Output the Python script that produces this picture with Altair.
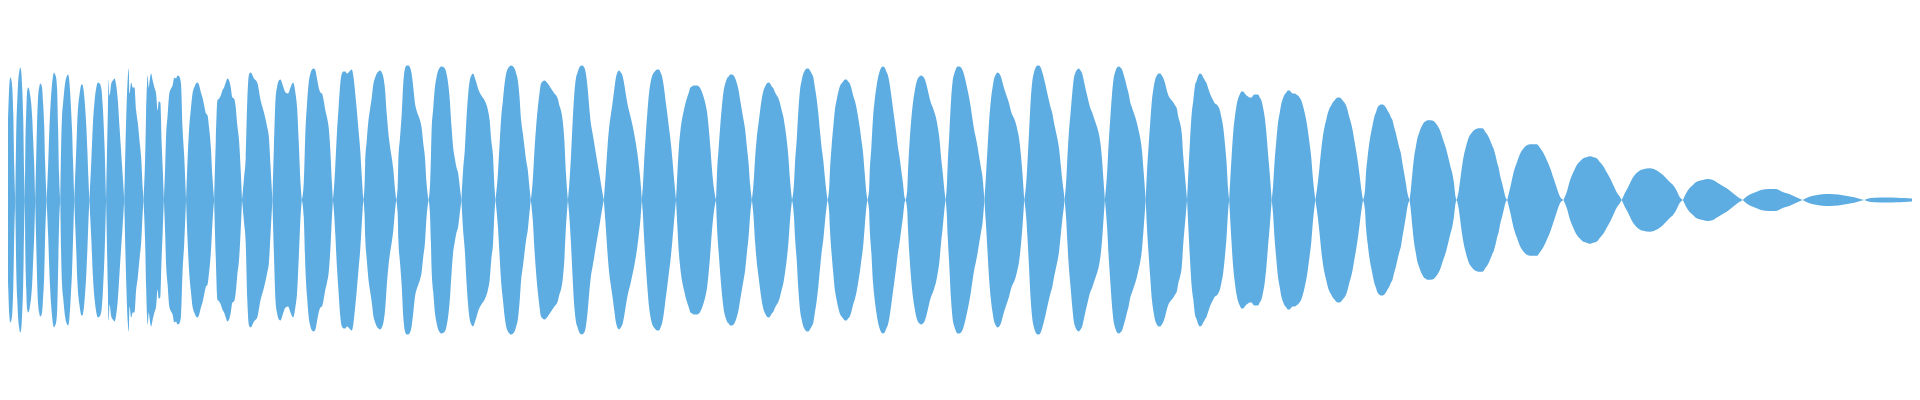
import altair as alt
import pandas as pd

# time positions (one line per lobe of the waveform)
T = [
    0, 3.5, 6.5,
    7.3, 8.3, 9.3, 10.3, 11.3, 12.3, 13.3, 14.3, 15.3,
    16.3, 17.3, 18.3, 19.3, 20.3, 21.3, 22.3, 23.3, 24.3, 25,
    25.3, 26.3, 27.3, 28.3, 29.3, 30.3, 31.3, 32.3, 33.3, 34.3, 35.3,
    36.3, 37.3, 38.3, 39.3, 40.3, 41.3, 42.3, 43.3, 44.3, 45.3, 46.7,
    48.3, 49.3, 50.3, 51.3, 52.3, 53.3, 54.3, 55.3, 56.3, 57.3, 58.3, 59.3, 60.5,
    61.3, 62.3, 63.3, 64.3, 65.3, 66.3, 68.3, 69.3, 70.3, 71.3, 72.3, 73.3, 74.5,
    75.7, 76.7, 77.7, 78.7, 79.7, 80.7, 81.7, 82.7, 83.7, 84.7, 85.7, 86.7, 87.7, 88.7, 89.7,
    91.7, 93.3, 95, 96.7, 98.3, 100, 101.7, 103.3, 105, 106.5,
    108.3, 109, 110, 111.7, 113.3, 115, 116.7, 118.3, 120, 121.7, 123.3, 124.7,
    126.7, 128.3, 129.3, 130, 131.7, 133.3, 135, 136.7, 138.3, 140, 141.7, 143.3, 144,
    145.7, 146.7, 148.3, 149.3, 150.7, 151.7, 153.3, 155, 156.7, 158.3, 159.3, 161, 162.3, 163.3, 164.5,
    165.7, 166.7, 168.3, 170, 171.7, 173.3, 175, 176.7, 178.3, 180, 181.7, 183.3, 185, 186.8,
    188.3, 190, 191.7, 193.3, 195, 198.3, 200, 201.7, 203.3, 205, 206.7, 208.3, 210, 211.7, 213.3, 215,
    216.7, 218.3, 220, 221.7, 223.3, 225, 226.7, 228.3, 230, 231.7, 233.3, 235, 236.7, 238.3, 240, 241.7, 243,
    245, 246.7, 248.3, 250, 251.7, 255, 258.3, 261.7, 265, 268.3, 270, 271.7, 273.5,
    275, 276.7, 278.3, 280, 281.7, 283.3, 286.7, 289.3, 291.7, 294.3, 296.7, 298.3, 300, 301.7, 303,
    305, 306.7, 308.3, 310, 311.7, 313.3, 315, 316.7, 318.3, 320, 321.7, 323.3, 325, 326.7, 328.3, 330, 331.7, 333.3, 334.3,
    335.7, 336.7, 338.3, 340, 341.7, 343.3, 345, 346.7, 348.3, 350, 351.7, 353.3, 355, 356.7, 358.3, 360, 361.7, 363.3, 364.7,
    366, 366.7, 368.3, 370, 371.7, 373.3, 375, 376.7, 378.3, 380, 381.7, 383.3, 385, 386.7, 388.3, 390, 391.7, 393.3, 395, 396.7, 397.8,
    399.3, 400, 401.7, 403.3, 405, 406.7, 408.3, 410, 411.7, 413.3, 415, 416.7, 418.3, 420, 421.7, 423.3, 425, 426.7, 428.3, 430.3,
    431.7, 432.7, 433.3, 435, 436.7, 438.3, 440, 443.3, 446.7, 448.3, 450, 451.7, 453.3, 455, 456.7, 458.3, 460, 461.7, 463.3,
    465, 466.7, 468.3, 470, 471.7, 473.3, 475, 476.7, 478.3, 480, 483.3, 486.7, 490, 491.7, 493.3, 495, 496.7, 497.5,
    500, 501.7, 503.3, 505, 506.7, 508.3, 510, 513.3, 516.7, 518.3, 520, 521.7, 523.3, 525, 526.7, 528.3, 530, 531.7, 533,
    535, 536.7, 538.3, 540, 541.7, 543.3, 546.7, 550, 553.3, 556.7, 560, 561.7, 563.3, 565, 566.7, 568.3, 570.3,
    571.7, 573.3, 575, 576.7, 578.3, 580, 581.7, 584.2, 586.7, 588.3, 590, 591.7, 593.3, 595, 596.7, 598.3, 600, 601.7, 603.3, 605, 606.3,
    608.3, 610, 611.7, 613.3, 615, 616.7, 618.3, 620, 621.7, 623.3, 625, 626.7, 628.3, 630, 633.3, 636.7, 640, 641.7, 643.3, 644.5,
    645.7, 646.7, 648.3, 650, 651.7, 653.3, 655, 656.7, 658.3, 660, 661.7, 663.3, 665, 666.7, 668.3, 670, 671.7, 673.3, 675, 676.7, 678.8,
    680, 681.7, 683.3, 685, 686.7, 688.3, 690, 691.7, 693.3, 695, 696.7, 700, 703.3, 705, 706.7, 708.3, 710, 711.7, 713.3, 715, 716.7, 719,
    720, 721.7, 723.3, 725, 726.7, 728.3, 730, 731.7, 733.3, 735, 736.7, 738.3, 740, 741.7, 743.3, 745, 746.7, 748.3, 750, 751.7, 753.3, 755,
    756.7, 758.3, 760, 761.7, 763.3, 765, 766.7, 768.3, 770, 771.7, 773.3, 775, 776.7, 778.3, 780, 781.7, 783.3, 785, 786.7, 788.3, 790, 791.7, 793.3, 795.3,
    797.3, 798.3, 800, 801.7, 803.3, 805, 806.7, 808.3, 810, 811.7, 813.3, 815, 816.7, 818.3, 820, 821.7, 823.3, 825, 826.7, 828.3, 830, 831,
    832.7, 833.3, 835, 836.7, 838.3, 840, 841.7, 843.3, 845, 846.7, 848.3, 850, 851.7, 853.3, 855, 856.7, 858.3, 860, 861.7, 863.3, 865, 866.7, 868.3, 870, 871,
    872.7, 873.3, 875, 876.7, 878.3, 880, 881.7, 883.3, 885, 886.7, 888.3, 890, 891.7, 893.3, 895, 896.7, 898.3, 900, 901.7, 903.3, 905, 906.7, 908.3, 909.3,
    911, 911.7, 913.3, 915, 916.7, 918.3, 920, 921.7, 923.3, 925, 926.7, 928.3, 930, 931.7, 933.3, 935, 936.7, 938.3, 940, 941.7, 943.3, 945, 946.7, 948.3, 949.5,
    950.7, 951.7, 953.3, 955, 956.7, 958.3, 960, 961.7, 963.3, 965, 966.7, 968.3, 970, 971.7, 973.3, 975, 976.7, 978.3, 980, 981.7, 983.3, 985, 986.7, 988.5,
    990, 991.7, 993.3, 995, 996.7, 998.3, 1000, 1001.7, 1003.3, 1005, 1006.7, 1008.3, 1010, 1011.7, 1013.3, 1015, 1016.7, 1018.3, 1020, 1021.7, 1023.3, 1025, 1026.7, 1028.5,
    1030.7, 1031.7, 1033.3, 1035, 1036.7, 1038.3, 1040, 1041.7, 1043.3, 1045, 1046.7, 1048.3, 1050, 1051.7, 1053.3, 1055, 1056.7, 1058.3, 1060, 1061.7, 1063.3, 1065, 1066.7, 1068.3, 1069,
    1070.7, 1071.7, 1073.3, 1075, 1076.7, 1078.3, 1080, 1081.7, 1083.3, 1085, 1086.7, 1088.3, 1090, 1091.7, 1093.3, 1095, 1096.7, 1098.3, 1100, 1101.7, 1103.3, 1105, 1106.7, 1108.3, 1109.5,
    1111.7, 1113.3, 1115, 1116.7, 1118.3, 1120, 1121.7, 1123.3, 1125, 1126.7, 1128.3, 1130, 1131.7, 1133.3, 1135, 1136.7, 1138.3, 1140, 1141.7, 1143.3, 1145, 1146.7, 1148.3, 1150.5,
    1151.7, 1153.3, 1155, 1156.7, 1158.3, 1160, 1161.7, 1163.3, 1165, 1166.7, 1168.3, 1170, 1171.7, 1173.3, 1175, 1176.7, 1178.3, 1180, 1181.7, 1183.3, 1185, 1186.7, 1188.3, 1190, 1192,
    1193.3, 1195, 1196.7, 1198.3, 1200, 1201.7, 1203.3, 1205, 1206.7, 1208.3, 1210, 1211.7, 1213.3, 1215, 1216.7, 1218.3, 1220, 1221.7, 1223.3, 1225, 1226.7, 1228.3, 1230, 1231.7, 1233.3, 1234.3,
    1236.7, 1238.3, 1240, 1241.7, 1243.3, 1245, 1246.7, 1248.3, 1250, 1251.7, 1253.3, 1255, 1256.7, 1258.3, 1260, 1261.7, 1263.3, 1265, 1266.7, 1268.3, 1270, 1271.7, 1273.3, 1275, 1277,
    1278.3, 1280, 1281.7, 1283.3, 1285, 1286.7, 1288.3, 1290, 1291.7, 1293.3, 1295, 1296.7, 1298.3, 1300, 1301.7, 1303.3, 1305, 1306.7, 1308.3, 1310, 1311.7, 1313.3, 1315, 1316.7, 1318.3, 1320.8,
    1323.3, 1325, 1326.7, 1328.3, 1330, 1331.7, 1333.3, 1335, 1336.7, 1338.3, 1340, 1341.7, 1343.3, 1345, 1346.7, 1348.3, 1350, 1351.7, 1353.3, 1355, 1356.7, 1358.3, 1360, 1361.7, 1363.3, 1365, 1366.7, 1368.7,
    1370.7, 1371.7, 1373.3, 1375, 1376.7, 1378.3, 1380, 1381.7, 1383.3, 1385, 1386.7, 1388.3, 1390, 1391.7, 1393.3, 1395, 1396.7, 1398.3, 1400, 1401.7, 1403.3, 1405, 1406.7, 1408.3, 1410, 1411.7, 1413.3, 1415.5,
    1416.7, 1418.3, 1420, 1421.7, 1423.3, 1425, 1426.7, 1428.3, 1430, 1431.7, 1433.3, 1436.7, 1440, 1441.7, 1443.3, 1445, 1446.7, 1448.3, 1450, 1451.7, 1453.3, 1455, 1456.7, 1458.3, 1460, 1461.7, 1462.8,
    1465, 1466.7, 1468.3, 1470, 1471.7, 1473.3, 1475, 1476.7, 1478.3, 1480, 1481.7, 1485, 1488.3, 1490, 1491.7, 1493.3, 1495, 1496.7, 1498.3, 1500, 1501.7, 1503.3, 1505, 1506.7, 1508.3, 1510, 1511.7, 1513.5,
    1516.7, 1520, 1523.3, 1526.7, 1530, 1533.3, 1536.7, 1540, 1543.3, 1546.7, 1550, 1553.3, 1556.7, 1560, 1563.3, 1566.7, 1570,
    1573.3, 1576.7, 1580, 1583.3, 1586.7, 1590, 1593.3, 1596.7, 1600, 1603.3, 1606.7, 1610, 1613.3, 1616.7, 1620, 1623.3, 1626.7, 1628.5,
    1631.7, 1635, 1638.3, 1643.3, 1650, 1656.7, 1663.3, 1670, 1676.7, 1680, 1683.3, 1686.7, 1690,
    1693.3, 1696.7, 1700, 1703.3, 1710, 1715, 1720, 1725, 1730, 1735, 1740, 1745, 1750,
    1753.3, 1758.3, 1763.3, 1768.3, 1776.7, 1783.3, 1790, 1796.7, 1803.3, 1810,
    1815, 1822, 1830, 1838, 1846, 1855, 1863, 1868, 1872,
    1876, 1882, 1895, 1905, 1912, 1920,
]

# amplitude at each position (same layout as T)
A = [
    0, 85, 0,
    58, 90, 115, 123, 121, 113, 87, 33, 0,
    70, 100, 120, 129, 133, 129, 112, 82, 23, 0,
    43, 88, 110, 113, 111, 105, 97, 83, 60, 37, 0,
    42, 82, 105, 113, 117, 116, 112, 97, 77, 38, 0,
    35, 65, 88, 105, 117, 125, 128, 126, 123, 112, 73, 25, 0,
    52, 85, 97, 108, 117, 122, 126, 122, 110, 92, 72, 40, 0,
    30, 55, 82, 97, 105, 112, 116, 116, 112, 103, 90, 73, 50, 23, 0,
    40, 77, 100, 113, 118, 117, 112, 92, 53, 0,
    90, 121, 105, 117, 120, 122, 115, 100, 73, 47, 23, 0,
    82, 123, 132, 107, 118, 113, 113, 90, 78, 60, 43, 12, 0,
    42, 87, 125, 113, 123, 127, 120, 113, 107, 90, 99, 98, 57, 33, 0,
    30, 63, 85, 107, 112, 115, 123, 122, 125, 124, 117, 72, 43, 0,
    40, 73, 92, 107, 113, 118, 115, 108, 103, 95, 87, 85, 72, 53, 23, 0,
    60, 100, 102, 105, 110, 113, 118, 122, 120, 113, 103, 102, 93, 75, 60, 30, 0,
    22, 43, 100, 126, 128, 122, 118, 100, 88, 73, 63, 33, 0,
    53, 102, 114, 120, 121, 117, 108, 107, 113, 118, 107, 93, 58, 18, 0,
    17, 70, 97, 118, 127, 131, 132, 130, 122, 113, 108, 107, 100, 90, 83, 73, 50, 17, 0,
    17, 35, 67, 93, 117, 127, 129, 129, 127, 128, 130, 131, 123, 107, 90, 70, 50, 23, 0,
    13, 37, 60, 80, 92, 103, 117, 123, 127, 129, 130, 128, 123, 110, 87, 67, 53, 43, 30, 10, 0,
    13, 40, 63, 85, 118, 132, 135, 135, 133, 127, 113, 97, 90, 85, 80, 73, 57, 43, 17, 0,
    13, 43, 67, 92, 113, 123, 130, 134, 132, 127, 117, 100, 75, 53, 42, 33, 27, 13, 0,
    30, 50, 80, 105, 120, 125, 127, 123, 118, 112, 105, 100, 90, 80, 60, 45, 10, 0,
    27, 57, 83, 100, 117, 127, 132, 135, 132, 127, 120, 103, 80, 67, 53, 40, 30, 12, 0,
    20, 50, 73, 92, 107, 117, 120, 117, 112, 107, 102, 95, 90, 80, 60, 27, 0,
    17, 43, 78, 107, 122, 128, 133, 135, 133, 127, 113, 93, 77, 67, 57, 47, 37, 27, 17, 7, 0,
    27, 53, 73, 85, 97, 110, 122, 128, 130, 128, 125, 117, 107, 97, 83, 67, 47, 33, 17, 0,
    17, 37, 63, 87, 107, 118, 125, 128, 130, 131, 131, 128, 123, 113, 100, 87, 73, 60, 43, 23, 0,
    23, 53, 70, 82, 90, 97, 103, 108, 113, 114, 115, 115, 112, 108, 103, 97, 88, 72, 53, 30, 13, 0,
    27, 53, 75, 95, 110, 117, 122, 124, 126, 126, 125, 122, 117, 110, 100, 90, 80, 70, 53, 37, 15, 0,
    17, 43, 63, 77, 90, 102, 110, 114, 117, 118, 117, 114, 112, 108, 105, 102, 97, 90, 83, 73, 60, 43, 20, 0,
    17, 37, 60, 90, 110, 120, 127, 130, 132, 132, 130, 127, 123, 113, 102, 87, 70, 53, 40, 23, 7, 0,
    13, 27, 53, 73, 90, 100, 108, 114, 117, 119, 121, 121, 119, 117, 112, 105, 100, 93, 83, 73, 60, 47, 27, 7, 0,
    10, 27, 53, 83, 100, 113, 123, 129, 133, 134, 133, 129, 125, 117, 105, 92, 80, 67, 53, 43, 30, 17, 3, 0,
    10, 27, 57, 80, 97, 108, 117, 122, 124, 125, 124, 122, 117, 110, 103, 97, 93, 88, 82, 73, 62, 43, 27, 10, 0,
    13, 37, 67, 100, 120, 127, 132, 134, 134, 133, 130, 125, 118, 110, 102, 92, 80, 70, 62, 53, 43, 33, 22, 0,
    23, 53, 80, 100, 113, 122, 126, 128, 127, 124, 118, 112, 107, 102, 97, 90, 85, 82, 77, 70, 62, 47, 27, 0,
    20, 37, 67, 100, 120, 128, 133, 135, 135, 133, 128, 122, 115, 107, 100, 93, 87, 78, 70, 62, 53, 37, 20, 7, 0,
    20, 40, 67, 87, 107, 122, 128, 131, 132, 130, 127, 120, 112, 105, 98, 92, 88, 83, 78, 73, 67, 57, 40, 17, 0,
    27, 57, 83, 107, 122, 129, 133, 134, 133, 131, 126, 120, 113, 107, 98, 93, 88, 83, 77, 70, 62, 50, 30, 0,
    27, 53, 77, 100, 112, 121, 125, 127, 127, 125, 122, 117, 110, 105, 102, 100, 98, 95, 92, 83, 77, 67, 43, 23, 0,
    27, 60, 87, 100, 115, 120, 125, 127, 126, 123, 120, 117, 112, 107, 103, 100, 97, 96, 94, 90, 82, 73, 57, 37, 10, 0,
    43, 67, 83, 95, 102, 106, 109, 109, 107, 105, 104, 103, 103, 105, 106, 106, 106, 103, 100, 93, 83, 67, 47, 27, 0,
    13, 40, 60, 77, 87, 97, 102, 106, 108, 110, 110, 108, 107, 107, 106, 105, 103, 100, 95, 88, 80, 70, 57, 43, 23, 0,
    17, 33, 50, 63, 73, 80, 87, 92, 95, 98, 100, 102, 103, 103, 102, 100, 98, 95, 90, 83, 77, 70, 60, 50, 40, 27, 13, 0,
    10, 27, 43, 57, 67, 75, 83, 88, 93, 95, 96, 96, 95, 93, 90, 87, 83, 80, 73, 67, 60, 53, 47, 37, 27, 17, 7, 0,
    10, 27, 43, 53, 62, 67, 72, 75, 78, 79, 80, 80, 79, 77, 75, 72, 68, 63, 58, 53, 47, 40, 33, 27, 17, 3, 0,
    10, 23, 35, 45, 52, 58, 63, 66, 68, 70, 71, 72, 72, 71, 68, 66, 63, 59, 55, 51, 45, 38, 32, 23, 17, 10, 3, 0,
    13, 28, 38, 47, 52, 55, 56, 56, 56, 52, 47, 40, 32, 22, 12, 3, 0,
    8, 20, 28, 35, 39, 42, 43, 44, 43, 42, 38, 34, 28, 22, 15, 8, 3, 0,
    7, 13, 20, 27, 31, 32, 30, 25, 18, 15, 10, 3, 0,
    7, 12, 15, 18, 20, 21, 20, 17, 14, 11, 7, 3, 0,
    3, 6, 8, 10, 11, 11, 8, 6, 3, 0,
    2.5, 4.5, 5.7, 6, 5.5, 4, 2.5, 1, 0,
    1.5, 2.3, 2.5, 2.3, 2, 1.5,
]

assert len(T) == len(A), (len(T), len(A))

# split into lobes: a zero closes the current lobe and opens the next one
lobes, cur = [], []
for t, a in zip(T, A):
    if a == 0:
        if len(cur) > 1:
            cur.append((t, a))
            lobes.append(cur)
        cur = [(t, a)]
    else:
        cur.append((t, a))
if len(cur) > 1:
    lobes.append(cur)

df = pd.DataFrame(
    [{"t": t, "amp": a, "neg": -a, "lobe": i} for i, lobe in enumerate(lobes) for t, a in lobe]
)

chart = (
    alt.Chart(df)
    .mark_area(interpolate="monotone", color="#5dade2", opacity=1, strokeWidth=0)
    .encode(
        x=alt.X("t:Q", scale=alt.Scale(domain=[0, 1920], nice=False, zero=False), axis=None),
        y=alt.Y("amp:Q", scale=alt.Scale(domain=[-192, 192], nice=False), axis=None),
        y2="neg:Q",
        detail="lobe:N",
    )
    .properties(
        width=1920,
        height=384,
        padding={"left": -8, "top": 0, "right": 0, "bottom": 0},
        background="white",
    )
    .configure_view(stroke=None)
)

chart.save("out.html", embed_options={"renderer": "svg", "actions": False})
